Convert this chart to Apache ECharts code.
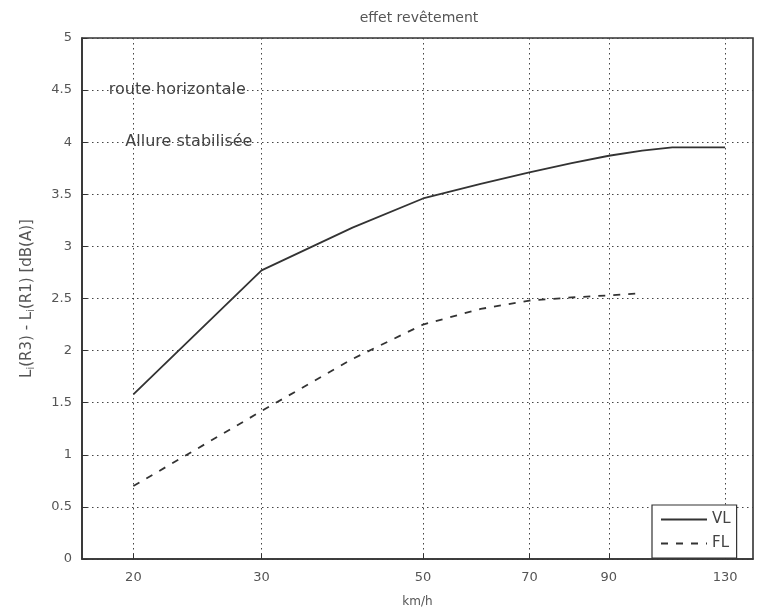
<!DOCTYPE html>
<html>
<head>
<meta charset="utf-8">
<title>effet revêtement</title>
<script src="https://cdn.jsdelivr.net/npm/echarts@6/dist/echarts.min.js"></script>
<style>
  html, body { margin: 0; padding: 0; background: #fff; }
  #chart { width: 764px; height: 613px; }
</style>
</head>
<body>
<div id="chart"></div>
<script>
// Speed (km/h) and level difference L_i(R3) - L_i(R1) in dB(A)
const speedsVL = [20, 30, 40, 50, 60, 70, 80, 90, 100, 110, 120, 130];
const valuesVL = [1.58, 2.77, 3.18, 3.46, 3.60, 3.71, 3.80, 3.87, 3.92, 3.95, 3.95, 3.95];
const speedsFL = [20, 30, 40, 50, 60, 70, 80, 90, 100];
const valuesFL = [0.70, 1.42, 1.92, 2.25, 2.40, 2.48, 2.51, 2.53, 2.55];

const xTicks = [20, 30, 50, 70, 90, 130];
const yTicks = [0, 0.5, 1, 1.5, 2, 2.5, 3, 3.5, 4, 4.5, 5];

const notes = [
  { text: 'route horizontale', x: 18.5, y: 4.5 },
  { text: 'Allure stabilisée', x: 19.5, y: 4.0 }
];

const pairs = (xs, ys) => xs.map((x, i) => [x, ys[i]]);

const textColor = '#555';
const fontFamily = 'DejaVu Sans, Verdana, sans-serif';
const gridLine = { color: '#444', width: 1, type: [1.5, 3.5] };
const curveColor = '#333';

const chart = echarts.init(document.getElementById('chart'), null, { renderer: 'canvas' });

chart.setOption({
  backgroundColor: '#fff',
  animation: false,
  textStyle: { fontFamily: fontFamily },
  title: {
    text: 'effet revêtement',
    left: 414,
    textAlign: 'center',
    top: 6,
    textStyle: { fontSize: 14, fontWeight: 'normal', color: textColor, fontFamily: fontFamily }
  },
  grid: {
    left: 82, right: 11, top: 38, bottom: 54,
    show: true,
    borderColor: '#333',
    borderWidth: 1.6,
    backgroundColor: 'transparent'
  },
  legend: {
    orient: 'vertical',
    left: 652,
    top: 505,
    itemWidth: 46,
    itemHeight: 12,
    itemGap: 9,
    padding: [7, 6, 7, 8],
    borderColor: '#333',
    borderWidth: 1.2,
    backgroundColor: '#fff',
    itemStyle: { opacity: 0 },
    textStyle: { fontSize: 15, color: '#444', fontFamily: fontFamily },
    data: ['VL', 'FL']
  },
  xAxis: {
    type: 'log',
    logBase: 10,
    min: 17,
    max: 142,
    name: 'km/h',
    nameLocation: 'middle',
    nameGap: 37,
    nameTextStyle: { fontSize: 12, color: textColor },
    axisLine: { show: true, lineStyle: { color: '#333', width: 1.6 } },
    axisTick: { show: true, inside: true, length: 5, customValues: xTicks, lineStyle: { color: '#333' } },
    axisLabel: { customValues: xTicks, color: textColor, fontSize: 13, margin: 12 },
    splitLine: { show: true, lineStyle: gridLine },
    minorTick: { show: false },
    minorSplitLine: { show: false }
  },
  yAxis: {
    type: 'value',
    min: 0,
    max: 5,
    interval: 0.5,
    name: 'L{s|i}(R3) - L{s|i}(R1) [dB(A)]',
    nameLocation: 'middle',
    nameGap: 46,
    nameRotate: 90,
    nameTextStyle: {
      fontSize: 15, color: textColor,
      rich: { s: { fontSize: 10, color: textColor, verticalAlign: 'bottom', padding: [7, 0, 0, 0] } }
    },
    axisLine: { show: true, lineStyle: { color: '#333', width: 1.6 } },
    axisTick: { show: true, inside: true, length: 5, lineStyle: { color: '#333' } },
    axisLabel: {
      color: textColor, fontSize: 13, margin: 10,
      customValues: yTicks,
      formatter: v => String(v)
    },
    splitLine: { show: true, lineStyle: gridLine }
  },
  series: [
    {
      name: 'VL',
      type: 'line',
      data: pairs(speedsVL, valuesVL),
      showSymbol: false,
      symbol: 'none',
      lineStyle: { color: curveColor, width: 1.8 },
      itemStyle: { color: curveColor },
      z: 3,
      markPoint: {
        symbol: 'circle',
        symbolSize: 0,
        silent: true,
        label: {
          show: true,
          position: 'right',
          distance: 0,
          color: '#444',
          fontSize: 16,
          fontFamily: fontFamily,
          formatter: p => p.name
        },
        data: notes.map(n => ({ name: n.text, coord: [n.x, n.y] }))
      }
    },
    {
      name: 'FL',
      type: 'line',
      data: pairs(speedsFL, valuesFL),
      showSymbol: false,
      symbol: 'none',
      lineStyle: { color: curveColor, width: 1.8, type: [7, 8] },
      itemStyle: { color: curveColor },
      z: 3
    }
  ]
});
</script>
</body>
</html>
